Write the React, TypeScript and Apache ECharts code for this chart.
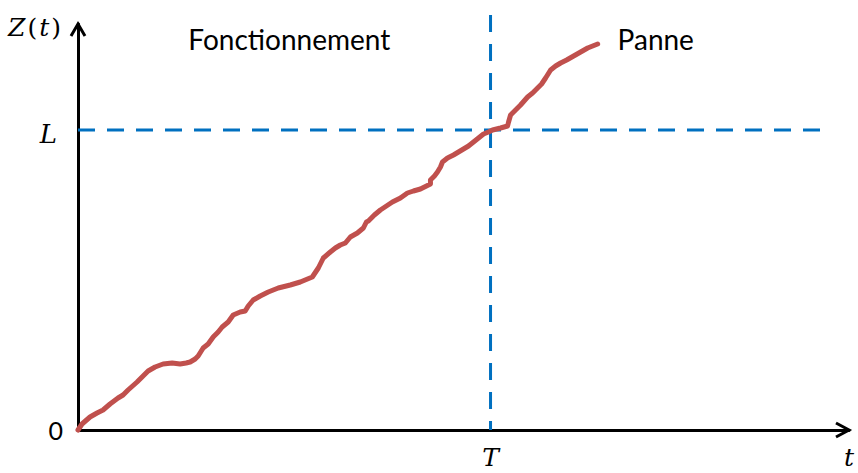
import React, { useEffect, useRef } from "react";
import * as echarts from "echarts";

// Curve Z(t): time values and degradation values (chart units)
const tValues = [
  0, 4, 12, 19, 25, 32, 40, 45, 50, 59, 65, 70, 77, 85, 94, 102, 108, 112, 117, 120,
  125, 130, 135, 140, 144, 150, 155, 162, 167, 170, 175, 182, 190, 200, 212, 222, 234, 240, 245, 252,
  257, 262, 267, 272, 279, 285, 288, 290, 296, 302, 308, 314, 322, 329, 335, 342, 348, 352, 352, 356,
  359, 362, 364, 369, 375, 380, 385, 390, 395, 400, 405, 410, 414, 422, 429, 430, 432, 437, 442, 449,
  454, 459, 463, 467, 472, 477, 482, 488, 495, 502, 509, 514, 519,
];
const zValues = [
  0, 6, 13, 17, 20, 26, 32, 35, 40, 48, 54, 59, 63, 66, 67, 66, 67, 68, 71, 74,
  82, 86, 93, 98, 103, 108, 115, 118, 119, 124, 130, 134, 138, 142, 145, 148, 153, 162, 172, 178,
  182, 185, 187, 193, 197, 202, 208, 209, 215, 220, 224, 228, 232, 237, 239, 241, 244, 246, 250, 254,
  258, 263, 268, 272, 275, 278, 281, 284, 288, 292, 296, 298, 300, 302, 304, 308, 315, 320, 325, 333,
  337, 342, 346, 352, 360, 364, 367, 370, 374, 378, 382, 384, 386,
];

const T_VALUE = 412; // failure time T
const L_VALUE = 300; // threshold L
const X_MAX = 770;
const Y_MAX = 406;
const L_LINE_END = 742;
const T_LINE_TOP = 415;

const xTickLabels = ["T", "t"];
const yTickLabels = ["0", "L"];
const regionLabels = ["Fonctionnement", "Panne"];

export default function App() {
  const ref = useRef<HTMLDivElement>(null);
  useEffect(() => {
    if (!ref.current) return;
    const chart = echarts.init(ref.current, null, { renderer: "svg" });
    const curve = tValues.map((t, i) => [t, zValues[i]]);
    const mathFont = "DejaVu Serif";
    chart.setOption({
      animation: false,
      backgroundColor: "#fff",
      grid: { left: 78, right: 9, top: 24, bottom: 43 },
      xAxis: {
        type: "value",
        min: 0,
        max: X_MAX,
        axisLine: { show: true, lineStyle: { color: "#000", width: 3 } },
        axisTick: { show: false },
        splitLine: { show: false },
        axisLabel: {
          customValues: [T_VALUE, X_MAX],
          formatter: (v: number) => (v === T_VALUE ? xTickLabels[0] : xTickLabels[1]),
          fontFamily: mathFont,
          fontStyle: "italic",
          fontSize: 25,
          lineHeight: 25,
          color: "#000",
          margin: 15,
          showMaxLabel: true,
        },
      },
      yAxis: {
        type: "value",
        min: 0,
        max: Y_MAX,
        axisLine: { show: true, lineStyle: { color: "#000", width: 3 } },
        axisTick: { show: false },
        splitLine: { show: false },
        axisLabel: {
          customValues: [0, L_VALUE],
          formatter: (v: number) => (v === 0 ? `{z|${yTickLabels[0]}}` : `{l|${yTickLabels[1]}}`),
          margin: 15,
          rich: {
            z: { fontFamily: "Lato", fontSize: 25, color: "#000" },
            l: { fontFamily: mathFont, fontStyle: "italic", fontSize: 26, color: "#000", padding: [8, 6, 0, 0] },
          },
        },
        name: "{i|Z}{n|(}{i|t}{n|)}",
        nameLocation: "end",
        nameGap: -3,
        nameTextStyle: {
          align: "right",
          verticalAlign: "middle",
          padding: [0, 15, 0, 0],
          rich: {
            i: { fontFamily: mathFont, fontStyle: "italic", fontSize: 25, color: "#000" },
            n: { fontFamily: mathFont, fontSize: 25, color: "#000", padding: [0, 2, 0, 2] },
          },
        },
      },
      series: [
        {
          type: "line",
          data: [[0, L_VALUE], [L_LINE_END, L_VALUE]],
          symbol: "none",
          clip: false,
          lineStyle: { color: "#0070C0", width: 3, type: [17, 12] },
          z: 2,
        },
        {
          type: "line",
          data: [[T_VALUE, T_LINE_TOP], [T_VALUE, 0]],
          symbol: "none",
          clip: false,
          lineStyle: { color: "#0070C0", width: 3, type: [17, 12] },
          z: 2,
        },
        {
          type: "line",
          data: curve,
          symbol: "none",
          clip: false,
          lineStyle: { color: "#C0504D", width: 5, cap: "round", join: "round" },
          z: 3,
        },
      ],
    });

    const xTip = chart.convertToPixel({ gridIndex: 0 }, [X_MAX, 0]) as number[];
    const yTip = chart.convertToPixel({ gridIndex: 0 }, [0, Y_MAX]) as number[];
    const p1 = chart.convertToPixel({ gridIndex: 0 }, [211, 391]) as number[];
    const p2 = chart.convertToPixel({ gridIndex: 0 }, [577, 391]) as number[];
    const arrowStyle = { stroke: "#000", lineWidth: 3, fill: "none", lineJoin: "miter" };
    const labelStyle = { fontFamily: "Lato", fontSize: 28, fill: "#000", align: "center", verticalAlign: "middle" };
    chart.setOption({
      graphic: [
        {
          type: "polyline",
          shape: { points: [[xTip[0] - 13, xTip[1] - 7], [xTip[0], xTip[1]], [xTip[0] - 13, xTip[1] + 7]] },
          style: arrowStyle,
        },
        {
          type: "polyline",
          shape: { points: [[yTip[0] - 7, yTip[1] + 12], [yTip[0], yTip[1]], [yTip[0] + 7, yTip[1] + 12]] },
          style: arrowStyle,
        },
        { type: "text", x: p1[0], y: p1[1], style: { ...labelStyle, text: regionLabels[0] } },
        { type: "text", x: p2[0], y: p2[1], style: { ...labelStyle, text: regionLabels[1] } },
      ],
    });
    return () => chart.dispose();
  }, []);
  return (
    <div
      ref={ref}
      style={{ position: "fixed", left: 0, top: 0, width: 858, height: 473, background: "#fff" }}
    />
  );
}
